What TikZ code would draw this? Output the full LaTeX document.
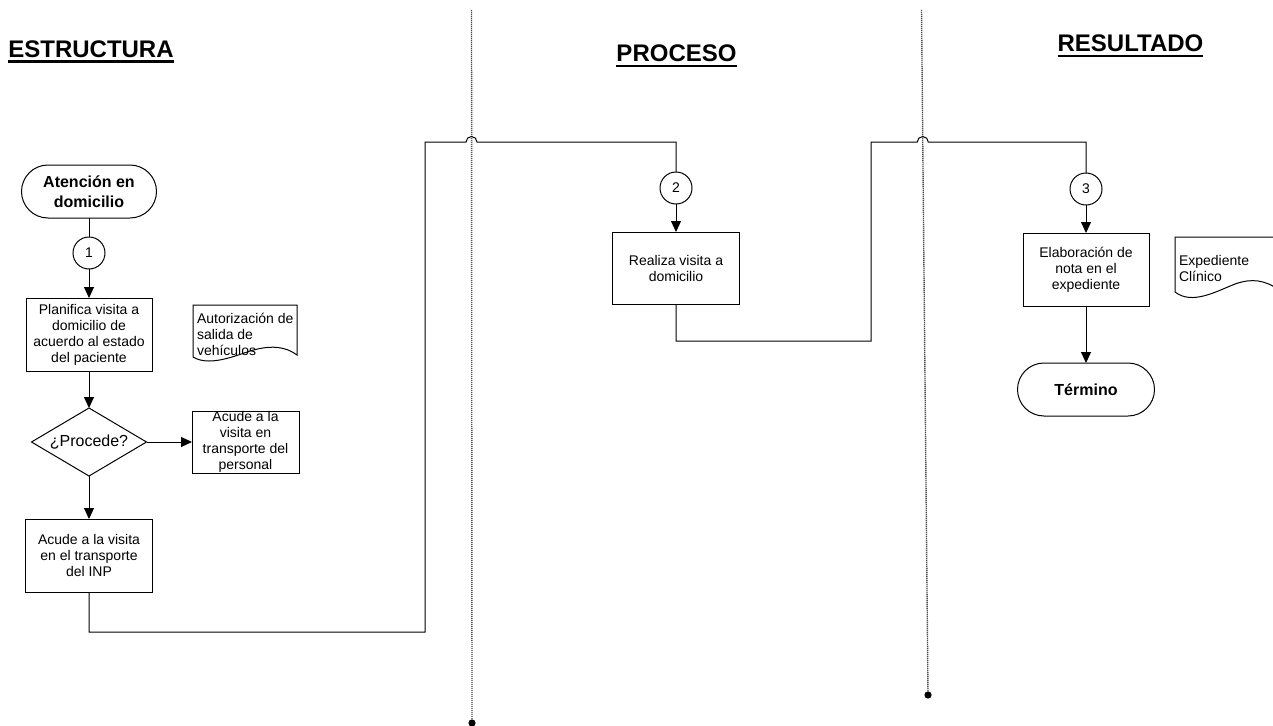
\documentclass[tikz,border=0pt]{standalone}
\usepackage{fontspec}
\setmainfont{Liberation Sans}
\usetikzlibrary{arrows.meta,shapes.geometric}
\begin{document}
\begin{tikzpicture}[x=1pt,y=-1pt,
  every node/.style={inner sep=0pt, outer sep=0pt},
  txt/.style={font=\fontsize{14}{16}\selectfont, align=center},
  box/.style={draw, line width=1pt, txt},
  term/.style={draw, line width=1pt, rounded corners=26.5pt,
    font=\bfseries\fontsize{16}{20}\selectfont, align=center},
  conn/.style={circle, draw, line width=1pt, minimum size=32pt,
    font=\fontsize{14}{16}\selectfont},
  decision/.style={diamond, draw, line width=1pt, aspect=1.69,
    minimum width=115pt, minimum height=68pt,
    font=\fontsize{16}{18}\selectfont},
  docshape/.style={draw, line width=1pt, fill=white},
  flow/.style={line width=1pt, -{Triangle[length=11pt,width=10pt]}},
  link/.style={line width=1pt},
  lane/.style={black!70, line width=1.4pt, dash pattern=on 1.2pt off 0.8pt},
  heading/.style={font=\bfseries\fontsize{24}{28}\selectfont,
    inner xsep=0pt, inner ysep=3.8pt, anchor=base},
  hdline/.style={line width=2.6pt}
]
\useasboundingbox (0,0) rectangle (1273,725);

% swimlane separators
\coordinate (l1top) at (471.5,10);
\coordinate (l1bot) at (472,723);
\coordinate (l2top) at (921.5,10);
\coordinate (l2bot) at (928,695);
\draw[lane] (l1top) -- (l1bot);
\draw[lane] (l2top) -- (l2bot);
\fill (l1bot) circle[radius=3.6pt];
\fill (l2bot) circle[radius=3.6pt];

% lane headings
\node[heading] (hA) at (91,57.5) {ESTRUCTURA};
\node[heading] (hB) at (676.5,62) {PROCESO};
\node[heading] (hC) at (1130.5,52) {RESULTADO};
\foreach \h in {hA,hB,hC}
  \draw[hdline] (\h.south west) -- (\h.south east);

% first lane
\node[term, minimum width=135pt, minimum height=53pt] (start) at (89,191.5) {Atención en\\domicilio};
\node[conn] (c1) at (89,253) {1};
\node[box, minimum width=126pt, minimum height=73pt] (plan) at (89,334.5)
  {Planifica visita a\\domicilio de\\acuerdo al estado\\del paciente};
\draw[docshape] (193,305) -- (297,305) -- (297,355)
  .. controls (285,346) and (270,345) .. (250,351)
  .. controls (230,358) and (208,366) .. (193,357) -- cycle;
\node[txt, align=left, anchor=west] (autz) at (197,334.5) {Autorización de\\salida de\\vehículos};
\node[decision] (proc) at (89,442) {¿Procede?};
\node[draw, line width=1pt, minimum width=107pt, minimum height=62pt] (pers) at (245.5,442) {};
\node[txt] (perstxt) at (pers.center) {Acude a la\\visita en\\transporte del\\personal};
\node[box, minimum width=127pt, minimum height=73pt] (inp) at (89,555.5)
  {Acude a la visita\\en el transporte\\del INP};

% second lane
\node[conn] (c2) at (676,188) {2};
\node[box, minimum width=127pt, minimum height=72pt] (vis) at (676,268) {Realiza visita a\\domicilio};

% third lane
\node[conn] (c3) at (1086,189) {3};
\node[box, minimum width=126pt, minimum height=73pt] (elab) at (1086,269.5)
  {Elaboración de\\nota en el\\expediente};
\node[term, minimum width=137pt, minimum height=53pt] (fin) at (1086,389.5) {Término};
\begin{scope}
  \clip (0,0) rectangle (1273,725);
  \draw[docshape] (1175,237) -- (1279,237) -- (1279,290)
    .. controls (1265,280) and (1252,278) .. (1235,284)
    .. controls (1215,292) and (1192,305) .. (1175,292) -- cycle;
\end{scope}
\node[txt, align=left, anchor=west] (exptxt) at (1179,268) {Expediente\\Clínico};

% bend points of the long connectors
\coordinate (b1) at (425,632);
\coordinate (b2) at (425,142);
\coordinate (h1) at (466,142);
\coordinate (b3) at (871,341);
\coordinate (b4) at (871,142);
\coordinate (h2) at (917.25,142);

% connectors
\draw[link] (start) -- (c1);
\draw[flow] (c1) -- (plan);
\draw[flow] (plan) -- (proc);
\draw[flow] (proc) -- (pers);
\draw[flow] (proc) -- (inp);
\draw[link] (inp.south) |- (b1) -- (b2) -- (h1)
  arc[start angle=180, end angle=0, radius=5.5pt] -| (c2.north);
\draw[flow] (c2) -- (vis);
\draw[link] (vis.south) |- (b3) -- (b4) -- (h2)
  arc[start angle=180, end angle=0, radius=5.5pt] -| (c3.north);
\draw[flow] (c3) -- (elab);
\draw[flow] (elab) -- (fin);
\end{tikzpicture}
\end{document}
